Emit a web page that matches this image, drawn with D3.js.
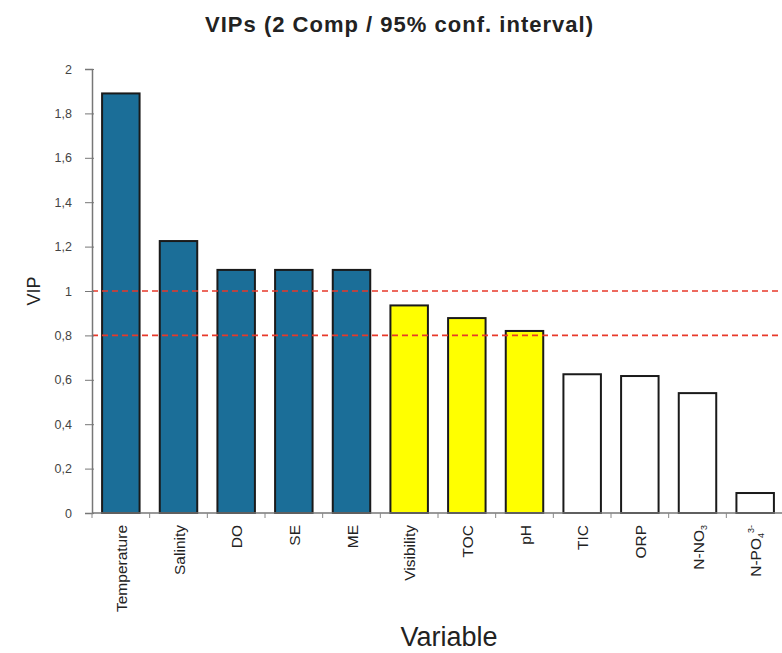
<!DOCTYPE html>
<html>
<head>
<meta charset="utf-8">
<script src="https://cdn.jsdelivr.net/npm/d3@7"></script>
<style>
  html, body { margin: 0; padding: 0; background: #fff; }
  svg { display: block; font-family: Arial, "Liberation Sans", sans-serif; }
</style>
</head>
<body>
<svg id="chart" width="782" height="653"></svg>
<script>
// Variable importance in projection, ordered by importance
const variables = ["Temperature", "Salinity", "DO", "SE", "ME", "Visibility", "TOC", "pH", "TIC", "ORP", "N-NO3", "N-PO4"];
const vip = [1.89, 1.225, 1.095, 1.095, 1.095, 0.935, 0.878, 0.82, 0.625, 0.617, 0.54, 0.09];
// importance group: high / moderate / low
const group = ["high", "high", "high", "high", "high", "mid", "mid", "mid", "low", "low", "low", "low"];
const thresholds = [1, 0.8];
const yTicks = [0, 0.2, 0.4, 0.6, 0.8, 1, 1.2, 1.4, 1.6, 1.8, 2];

const fills = { high: "#1b6e98", mid: "#ffff00", low: "#ffffff" };

const svg = d3.select("#chart");
const plotLeft = 92, plotRight = 784, plotTop = 69, plotBottom = 513;

const x = d3.scaleBand().domain(variables).range([plotLeft, plotRight]).paddingInner(0.35).paddingOuter(0.175);
const y = d3.scaleLinear().domain([0, 2]).range([plotBottom, plotTop]);

// title
svg.append("text")
  .attr("x", 399).attr("y", 32)
  .attr("text-anchor", "middle")
  .attr("font-weight", "bold")
  .attr("font-size", 22)
  .attr("textLength", 388)
  .attr("lengthAdjust", "spacing")
  .attr("fill", "#222")
  .text("VIPs (2 Comp / 95% conf. interval)");

// bars
svg.append("g").selectAll("rect")
  .data(variables)
  .join("rect")
  .attr("x", d => x(d))
  .attr("y", (d, i) => y(vip[i]))
  .attr("width", x.bandwidth())
  .attr("height", (d, i) => y(0) - y(vip[i]))
  .attr("fill", (d, i) => fills[group[i]])
  .attr("stroke", "#1a1a1a")
  .attr("stroke-width", 2);

// threshold lines
svg.append("g").selectAll("line")
  .data(thresholds)
  .join("line")
  .attr("x1", plotLeft).attr("x2", 782)
  .attr("y1", d => y(d)).attr("y2", d => y(d))
  .attr("stroke", "#e8392a")
  .attr("stroke-width", 1.6)
  .attr("stroke-dasharray", "6,4");

// y axis
const yAxis = svg.append("g")
  .attr("transform", `translate(${plotLeft},0)`)
  .call(d3.axisLeft(y).tickValues(yTicks).tickSize(7).tickPadding(13)
    .tickFormat(d => d3.format("~g")(d).replace(".", ",")));
yAxis.select(".domain").attr("stroke", "#777").attr("stroke-width", 1.5);
yAxis.selectAll(".tick line").attr("stroke", "#777").attr("x2", -7).attr("x1", 2);
yAxis.selectAll(".tick text").attr("font-size", 12.5).attr("fill", "#444").attr("font-family", "Arial, 'Liberation Sans', sans-serif");

// x axis baseline and ticks between categories
const xg = svg.append("g");
xg.append("line")
  .attr("x1", plotLeft).attr("x2", 782)
  .attr("y1", plotBottom).attr("y2", plotBottom)
  .attr("stroke", "#777").attr("stroke-width", 1.5);
const step = x.step();
xg.selectAll("line.tk")
  .data(d3.range(variables.length + 1))
  .join("line")
  .attr("class", "tk")
  .attr("x1", i => plotLeft + i * step).attr("x2", i => plotLeft + i * step)
  .attr("y1", plotBottom).attr("y2", plotBottom + 5)
  .attr("stroke", "#888");

// category labels, rotated
const labels = svg.append("g").selectAll("text")
  .data(variables)
  .join("text")
  .attr("transform", d => `translate(${x(d) + x.bandwidth() / 2 + 6},${plotBottom + 12}) rotate(-90)`)
  .attr("text-anchor", "end")
  .attr("font-size", 15.5)
  .attr("fill", "#222");
labels.each(function(d) {
  const t = d3.select(this);
  if (d === "N-NO3") {
    t.append("tspan").text("N-NO");
    t.append("tspan").attr("font-size", 9).attr("dy", 3).text("3");
    t.append("tspan").attr("font-size", 9).attr("dy", -3).text(" ");
  } else if (d === "N-PO4") {
    t.append("tspan").text("N-PO");
    t.append("tspan").attr("font-size", 9).attr("dy", 3).text("4");
    t.append("tspan").attr("font-size", 9).attr("dy", -10).text("3-");
  } else {
    t.text(d);
  }
});

// axis titles
svg.append("text")
  .attr("transform", `translate(40,${y(1)}) rotate(-90)`)
  .attr("text-anchor", "middle")
  .attr("font-size", 18)
  .attr("fill", "#222")
  .text("VIP");

svg.append("text")
  .attr("x", 449).attr("y", 646)
  .attr("text-anchor", "middle")
  .attr("font-size", 27)
  .attr("fill", "#222")
  .text("Variable");
</script>
</body>
</html>
